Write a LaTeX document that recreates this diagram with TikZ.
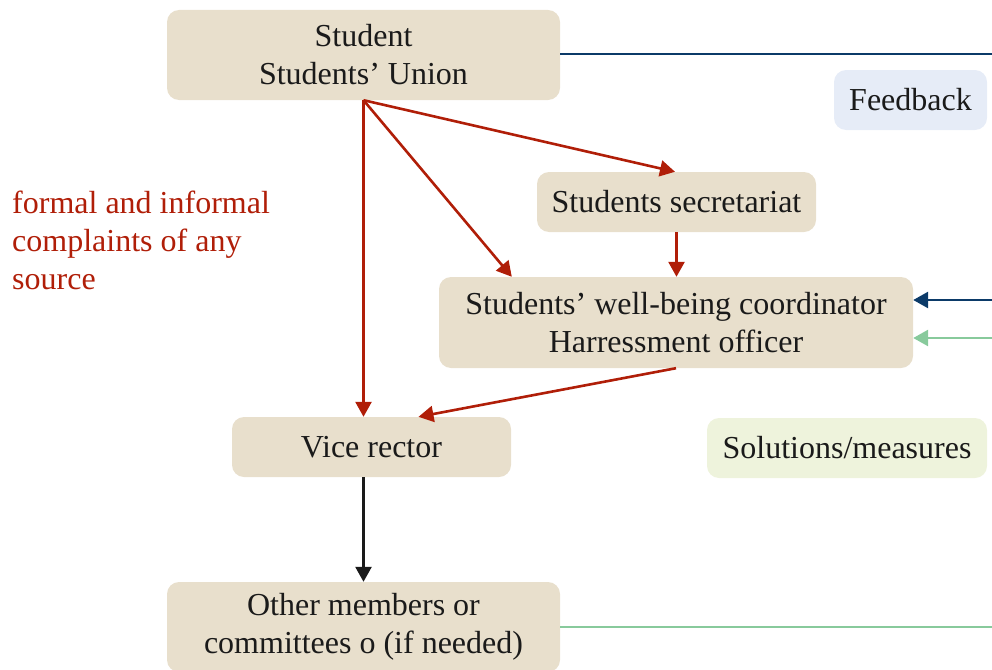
\documentclass[tikz,border=0pt]{standalone}
\usepackage{fontspec}
\setmainfont{Liberation Serif}
\usetikzlibrary{arrows.meta,calc}
\definecolor{boxfill}{HTML}{E8DFCC}
\definecolor{redc}{HTML}{B01E08}
\definecolor{navy}{HTML}{0B3A68}
\definecolor{greenc}{HTML}{88CA9C}
\definecolor{fbfill}{HTML}{E6ECF7}
\definecolor{solfill}{HTML}{EEF3DC}
\definecolor{txt}{HTML}{1A1A1A}
\begin{document}
\begin{tikzpicture}[x=1pt,y=-1pt,
  box/.style={fill=boxfill, rounded corners=12pt, align=center, inner sep=0pt, text=txt, font=\fontsize{32}{38}\selectfont},
  redarrow/.style={draw=redc, line width=2.6pt, -{Triangle[length=15pt,width=16pt]}},
  navyarrow/.style={draw=navy, line width=2.8pt, -{Triangle[length=15pt,width=16pt]}},
  greenarrow/.style={draw=greenc, line width=2.8pt, -{Triangle[length=15pt,width=16pt]}},
  blackarrow/.style={draw=txt, line width=2.6pt, -{Triangle[length=15pt,width=16pt]}},
  navyline/.style={draw=navy, line width=2.8pt},
  greenline/.style={draw=greenc, line width=2.8pt}
]
\useasboundingbox (0,0) rectangle (992,669);

\node[box, minimum width=393pt, minimum height=90pt] (student) at (363.5,55) {Student\\Students’ Union};
\node[box, fill=fbfill, minimum width=153pt, minimum height=60pt] (fb) at (910.5,100) {Feedback};
\node[box, minimum width=279pt, minimum height=60pt] (sec) at (676.5,202) {Students secretariat};
\node[box, minimum width=474pt, minimum height=91pt] (wb) at (676,322.5) {Students’ well-being coordinator\\Harressment officer};
\node[box, minimum width=279pt, minimum height=60pt] (vice) at (371.5,447) {Vice rector};
\node[box, fill=solfill, minimum width=280pt, minimum height=60pt] (sol) at (847,448) {Solutions/measures};
\node[box, minimum width=393pt, minimum height=90pt] (other) at (363.5,627) {Other members or\\committees o (if needed)};

\node[anchor=north west, align=left, inner sep=0pt, text=redc, font=\fontsize{32}{38}\selectfont] (note) at (12,191) {formal and informal\\complaints of any\\source};

\coordinate (topEnd) at (992,54);
\coordinate (navyIn) at (992,300);
\coordinate (greenIn) at (992,338);
\coordinate (botEnd) at (992,627);

\draw[navyline] (student.east |- topEnd) -- (topEnd);
\draw[navyarrow] (navyIn) -- (wb.east |- navyIn);
\draw[greenarrow] (greenIn) -- (wb.east |- greenIn);
\draw[greenline] (other.east) -- (botEnd);

\draw[redarrow] (student.south) -- (student.south |- vice.north);
\draw[redarrow] (student.south) -- ($(wb.north west)+(73,0)$);
\draw[redarrow] (student.south) -- ($(sec.north)+(-1.5,0)$);
\draw[redarrow] (sec.south) -- (sec.south |- wb.north);
\draw[redarrow] (wb.south) -- ($(vice.north)+(47,0)$);
\draw[blackarrow] (other.north |- vice.south) -- (other.north);
\end{tikzpicture}
\end{document}
